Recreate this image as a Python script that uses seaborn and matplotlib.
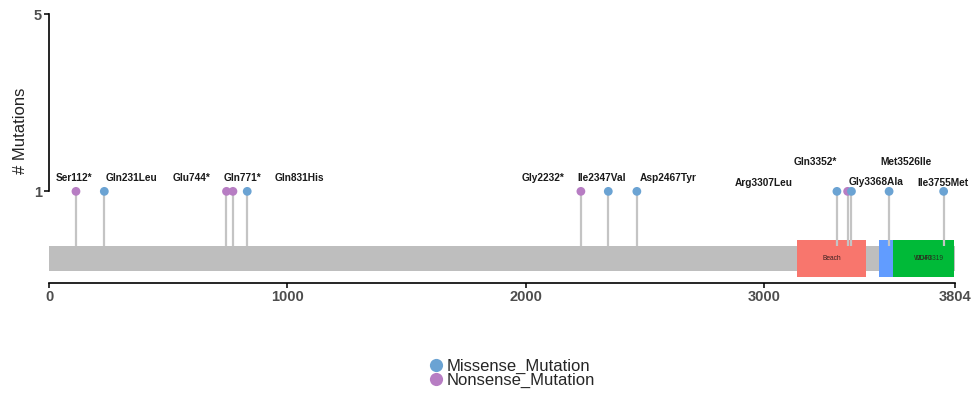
import matplotlib
matplotlib.use("Agg")
import matplotlib.pyplot as plt
from matplotlib.patches import Rectangle
import seaborn as sns
import pandas as pd

# ---------------- data ----------------
protein_length = 3804
positions = [112, 231, 744, 771, 831, 2232, 2347, 2467, 3307, 3352, 3368, 3526, 3755]
labels = ["Ser112*", "Gln231Leu", "Glu744*", "Gln771*", "Gln831His", "Gly2232*",
          "Ile2347Val", "Asp2467Tyr", "Arg3307Leu", "Gln3352*", "Gly3368Ala",
          "Met3526Ile", "Ile3755Met"]
counts = [1, 1, 1, 1, 1, 1, 1, 1, 1, 1, 1, 1, 1]
mut_types = ["Nonsense_Mutation", "Missense_Mutation", "Nonsense_Mutation", "Nonsense_Mutation",
             "Missense_Mutation", "Nonsense_Mutation", "Missense_Mutation", "Missense_Mutation",
             "Missense_Mutation", "Nonsense_Mutation", "Missense_Mutation", "Missense_Mutation",
             "Missense_Mutation"]
domain_names = ["Beach", "", "WD40"]
domain_start = [3140, 3482, 3543]
domain_end = [3431, 3543, 3799]
x_ticks = [0, 1000, 2000, 3000, 3804]
y_ticks = [1, 5]

# ---------------- layout / style (not data) ----------------
label_x = [103, 344, 598, 812, 1050, 2074, 2318, 2599, 2998, 3216, 3472, 3596, 3754]
label_y = [1.30, 1.30, 1.31, 1.30, 1.31, 1.30, 1.30, 1.30, 1.19, 1.67, 1.22, 1.67, 1.19]
type_colors = {"Missense_Mutation": "#6BA3D3", "Nonsense_Mutation": "#B77DC3"}
domain_colors = ["#F8766D", "#619CFF", "#00BA38"]
bar_y0, bar_y1 = -0.81, -0.23
dom_y0, dom_y1 = -0.93, -0.11

sns.set_theme(style="white")
plt.rcParams["font.family"] = ["Liberation Sans", "DejaVu Sans"]

df = pd.DataFrame({"pos": positions, "count": counts, "type": mut_types, "label": labels})

fig = plt.figure(figsize=(9.79, 3.96), dpi=100)
ax = fig.add_axes([49.3 / 979, 0.2598, 906 / 979, 0.7374])
ax.set_xlim(0, protein_length)
ax.set_ylim(-1.3, 5.3)

# protein backbone
ax.add_patch(Rectangle((0, bar_y0), protein_length, bar_y1 - bar_y0,
                       facecolor="#BEBEBE", edgecolor="none", zorder=1, clip_on=False))
# domains
for name, s, e, c in zip(domain_names, domain_start, domain_end, domain_colors):
    ax.add_patch(Rectangle((s, dom_y0), e - s, dom_y1 - dom_y0,
                           facecolor=c, edgecolor="none", zorder=2, clip_on=False))
    if name:
        ax.text((s + e) / 2, (dom_y0 + dom_y1) / 2, name, ha="center", va="center",
                fontsize=4.8, color="#3a2020", zorder=3)
# overlapping secondary label on the WD40 domain (as in the reference)
ax.text((domain_start[2] + domain_end[2]) / 2 + 25, (dom_y0 + dom_y1) / 2, "DUF3319",
        ha="center", va="center", fontsize=4.8, color="#203a20", zorder=3)

# stems
ax.vlines(df["pos"], bar_y1, df["count"], color="#C4C4C4", linewidth=1.6, zorder=3)

# dots
sns.scatterplot(data=df, x="pos", y="count", hue="type",
                hue_order=["Missense_Mutation", "Nonsense_Mutation"],
                palette=type_colors, s=40, edgecolor="none", ax=ax, zorder=4)

# labels
for lx, ly, t in zip(label_x, label_y, labels):
    ax.text(lx, ly, t, ha="center", va="center", fontsize=7.3, fontweight="bold",
            color="#1a1a1a", zorder=5)

# axes styling
for sp in ["top", "right"]:
    ax.spines[sp].set_visible(False)
ax.spines["left"].set_bounds(1, 5)
ax.spines["left"].set_color("black")
ax.spines["left"].set_linewidth(1.2)
ax.spines["bottom"].set_position(("data", -1.06))
ax.spines["bottom"].set_bounds(0, protein_length)
ax.spines["bottom"].set_color("black")
ax.spines["bottom"].set_linewidth(1.2)

ax.set_xticks(x_ticks)
ax.set_xticklabels([str(v) for v in x_ticks])
ax.set_yticks(y_ticks)
ax.set_yticklabels([str(v) for v in y_ticks])
ax.tick_params(axis="both", which="both", direction="out", length=3.5, width=1.1,
               color="black", labelsize=10.5, labelcolor="#4D4D4D", pad=2)
ax.tick_params(axis="y", left=True)
ax.tick_params(axis="x", bottom=True)
for lab in ax.get_xticklabels() + ax.get_yticklabels():
    lab.set_fontweight("bold")

ax.set_xlabel("")
ax.set_ylabel("# Mutations", fontsize=12, color="#222222")
ax.yaxis.set_label_coords(-0.0235, 0.555)

sns.move_legend(ax, "center", bbox_to_anchor=(507 / 979, 1 - 373.5 / 396),
                bbox_transform=fig.transFigure, title=None, frameon=False,
                fontsize=12, labelspacing=-0.05, handletextpad=-0.35,
                borderpad=0, markerscale=1.5)

fig.savefig("out.png", dpi=100)
